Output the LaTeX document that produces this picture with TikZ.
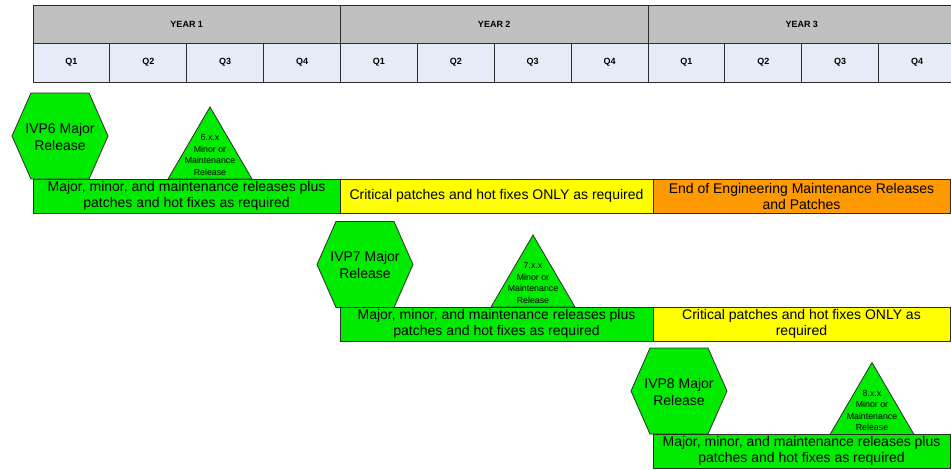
\documentclass[tikz,border=0pt]{standalone}
\usepackage{fontspec}
\setmainfont{Liberation Sans}
\definecolor{relgreen}{RGB}{0,235,0}
\definecolor{crityellow}{RGB}{255,255,0}
\definecolor{eolorange}{RGB}{255,153,0}
\definecolor{yeargray}{RGB}{192,192,192}
\definecolor{qblue}{RGB}{230,236,247}
\definecolor{edgecol}{RGB}{45,45,45}
\begin{document}
\begin{tikzpicture}[x=1pt,y=-1pt,
  shapeline/.style={draw=edgecol, line width=0.8pt},
  yearcell/.style={shapeline, fill=yeargray, inner sep=0pt, minimum height=38pt,
    font=\fontsize{9}{11}\selectfont\bfseries},
  qcell/.style={shapeline, fill=qblue, inner sep=0pt, minimum height=39pt,
    minimum width=76.875pt, font=\fontsize{9}{11}\selectfont\bfseries},
  bar/.style={shapeline, inner sep=0pt, minimum height=34pt, align=center,
    font=\fontsize{14}{16}\selectfont},
  greenbar/.style={bar, fill=relgreen},
  yellowbar/.style={bar, fill=crityellow},
  orangebar/.style={bar, fill=eolorange},
  hextext/.style={inner sep=0pt, align=center, font=\fontsize{14}{17}\selectfont},
  tritext/.style={inner sep=0pt, align=center, font=\fontsize{8.8}{11.5}\selectfont},
  hexa/.pic={\path[shapeline, fill=relgreen] (-48,0) -- (-29,-43) -- (29,-43) -- (48,0) -- (29,43) -- (-29,43) -- cycle;},
  tria/.pic={\path[shapeline, fill=relgreen] (-42,36) -- (0,-36) -- (42,36) -- cycle;}
]
\useasboundingbox (0,0) rectangle (951,469);
\clip (0,0) rectangle (951,469);

% header
\node[yearcell, minimum width=307.5pt] (y1) at (186.75,24) {YEAR 1};
\node[yearcell, minimum width=307.5pt] (y2) at (494.25,24) {YEAR 2};
\node[yearcell, minimum width=307.5pt] (y3) at (801.75,24) {YEAR 3};
\foreach \k/\qn in {1/1,2/2,3/3,4/4,5/1,6/2,7/3,8/4,9/1,10/2,11/3,12/4}
  \node[qcell] (q\k) at ({33+76.875*(\k-0.5)},62.5) {Q\qn};

% release shapes
\pic at (60,136) {hexa};
\node[hextext] (h1) at (60,136.5) {IVP6 Major\\Release};
\pic at (210,143) {tria};
\node[tritext] (t1) at (210,155) {6.x.x\\Minor or\\Maintenance\\Release};

\pic at (365,264.5) {hexa};
\node[hextext] (h2) at (365,265) {IVP7 Major\\Release};
\pic at (533,271) {tria};
\node[tritext] (t2) at (533,283) {7.x.x\\Minor or\\Maintenance\\Release};

\pic at (679,391) {hexa};
\node[hextext] (h3) at (679,391.5) {IVP8 Major\\Release};
\pic at (872,398.5) {tria};
\node[tritext] (t3) at (872,410.5) {8.x.x\\Minor or\\Maintenance\\Release};

% bars
\node[greenbar, minimum width=307pt] (g1) at (186.5,196) {Major, minor, and maintenance releases plus\\patches and hot fixes as required};
\node[yellowbar, minimum width=313pt] (c1) at (496.5,196) {Critical patches and hot fixes ONLY as required};
\node[orangebar, minimum width=297pt] (e1) at (801.5,196) {End of Engineering Maintenance Releases\\and Patches};

\node[greenbar, minimum width=313pt] (g2) at (496.5,324) {Major, minor, and maintenance releases plus\\patches and hot fixes as required};
\node[yellowbar, minimum width=297pt] (c2) at (801.5,324) {Critical patches and hot fixes ONLY as\\required};

\node[greenbar, minimum width=297pt] (g3) at (801.5,451) {Major, minor, and maintenance releases plus\\patches and hot fixes as required};
\end{tikzpicture}
\end{document}
